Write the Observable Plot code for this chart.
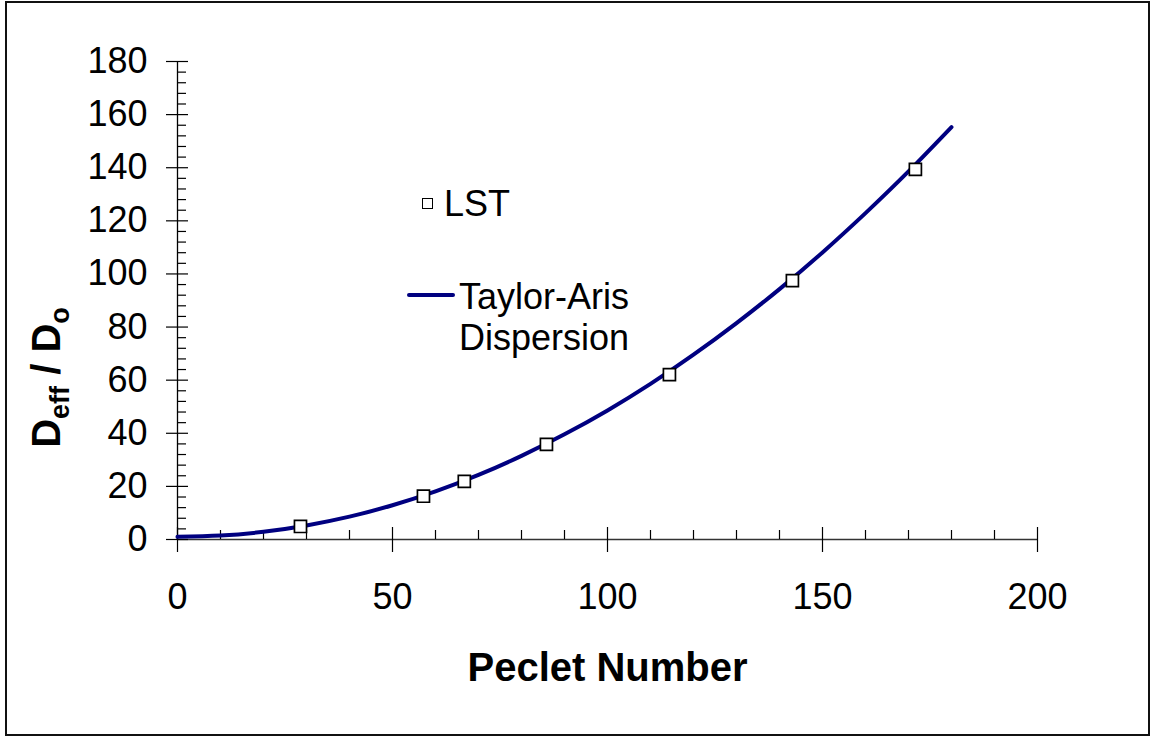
<!DOCTYPE html>
<html>
<head>
<meta charset="utf-8">
<script src="https://cdn.jsdelivr.net/npm/d3@7"></script>
<script src="https://cdn.jsdelivr.net/npm/@observablehq/plot@0.6"></script>
<style>
  html, body { margin: 0; padding: 0; background: #fff; }
  #wrap { position: relative; width: 1150px; height: 736px; overflow: hidden; font-family: "Liberation Sans", Arial, sans-serif; }
  #wrap svg { position: absolute; left: 0; top: 0; }
  #border { position: absolute; left: 5px; top: 1px; width: 1145px; height: 735px; border: 2px solid #111; box-sizing: border-box; pointer-events: none; }
  .lg { position: absolute; font-size: 36px; line-height: 41px; color: #000; white-space: nowrap; }
  .lgsq { position: absolute; width: 11px; height: 11px; border: 1.5px solid #000; box-sizing: border-box; background: #fff; }
  .lgline { position: absolute; height: 4px; background: #000080; border-radius: 2px; }
</style>
</head>
<body>
<div id="wrap">
  <div id="border"></div>
</div>
<script>
// ---- data ----
const curvePe    = [0, 10, 20, 30, 40, 50, 60, 70, 80, 90, 100, 110, 120, 130, 140, 150, 160, 170, 180];
const curveRatio = [1.0, 1.5, 2.9, 5.3, 8.6, 12.9, 18.1, 24.3, 31.5, 39.6, 48.6, 58.6, 69.6, 81.5, 94.3, 108.1, 122.9, 138.6, 155.3];

const lstPe    = [28.6, 57.2, 66.7, 85.8, 114.4, 143.0, 171.6];
const lstRatio = [4.9, 16.3, 21.9, 35.8, 62.1, 97.5, 139.4];

const xTicks = [0, 50, 100, 150, 200];
const yTicks = [0, 20, 40, 60, 80, 100, 120, 140, 160, 180];
const xMinor = d3.range(0, 201, 10).filter(d => d % 50 !== 0);
const yMinor = d3.range(0, 181, 4).filter(d => d % 20 !== 0);

const xTitle = "Peclet Number";
const yTitle = "Deff / Do";
const legendLST = "LST";
const legendTA = ["Taylor-Aris", "Dispersion"];

const curve = curvePe.map((pe, i) => ({pe, ratio: curveRatio[i]}));
const lst = lstPe.map((pe, i) => ({pe, ratio: lstRatio[i]}));

const chart = Plot.plot({
  width: 1150,
  height: 736,
  marginLeft: 177,
  marginRight: 113,
  marginTop: 61,
  marginBottom: 197,
  x: {domain: [0, 200]},
  y: {domain: [0, 180]},
  style: {fontFamily: "'Liberation Sans', Arial, sans-serif", background: "transparent", color: "#000", overflow: "visible"},
  marks: [
    Plot.ruleY([0], {stroke: "#333", strokeWidth: 1.3}),
    Plot.ruleX([0], {stroke: "#000", strokeWidth: 1.3}),
    Plot.ruleX(xTicks, {x: d => d, y1: 0, y2: 0, insetTop: -12, insetBottom: -13, stroke: "#000", strokeWidth: 1.2}),
    Plot.ruleX(xMinor, {x: d => d, y1: 0, y2: 0, insetTop: -9, insetBottom: 0, stroke: "#000", strokeWidth: 1.2}),
    Plot.ruleY(yTicks, {y: d => d, x1: 0, x2: 0, insetLeft: -11, insetRight: -11, stroke: "#000", strokeWidth: 1.2}),
    Plot.ruleY(yMinor, {y: d => d, x1: 0, x2: 0, insetLeft: 0, insetRight: -9, stroke: "#000", strokeWidth: 1.2}),
    Plot.axisX(xTicks, {tickSize: 0, tickPadding: 44, fontSize: 36, label: null}),
    Plot.axisY(yTicks, {tickSize: 0, tickPadding: 30, fontSize: 36, label: null}),
    Plot.line(curve, {x: "pe", y: "ratio", stroke: "#000080", strokeWidth: 4, curve: "natural", strokeLinecap: "round"}),
    Plot.dot(lst, {x: "pe", y: "ratio", symbol: "square", r: 6.8, stroke: "#000", fill: "#fff", strokeWidth: 1.7}),
    Plot.text([xTitle], {text: d => d, frameAnchor: "bottom", textAnchor: "middle", lineAnchor: "middle", dy: 129, fontSize: 40, fontWeight: "bold", fill: "#000"}),
    Plot.text([yTitle], {text: d => d, frameAnchor: "left", textAnchor: "middle", lineAnchor: "middle", rotate: -90, dx: -130, dy: 77, fontSize: 40, fontWeight: "bold", fill: "#000"})
  ]
});

// subscripts in the y title
const NS = "http://www.w3.org/2000/svg";
chart.querySelectorAll("text").forEach(t => {
  if (t.textContent === yTitle) {
    t.textContent = "";
    const parts = [["D", 40, 0], ["eff", 27, 9], [" / D", 40, -9], ["o", 27, 9]];
    parts.forEach(([s, fs, dy]) => {
      const ts = document.createElementNS(NS, "tspan");
      ts.textContent = s;
      ts.setAttribute("font-size", fs);
      if (dy) ts.setAttribute("dy", dy);
      t.appendChild(ts);
    });
  }
});

const wrap = document.getElementById("wrap");
wrap.insertBefore(chart, wrap.firstChild);

// legend overlay
function add(cls, style, text) {
  const d = document.createElement("div");
  d.className = cls;
  Object.assign(d.style, style);
  if (text) d.innerHTML = text;
  wrap.appendChild(d);
}
add("lgsq", {left: "422px", top: "198px"});
add("lg", {left: "444px", top: "183px"}, legendLST);
add("lgline", {left: "407px", top: "293px", width: "48px"});
add("lg", {left: "459px", top: "276px"}, legendTA.join("<br>"));
</script>
</body>
</html>
